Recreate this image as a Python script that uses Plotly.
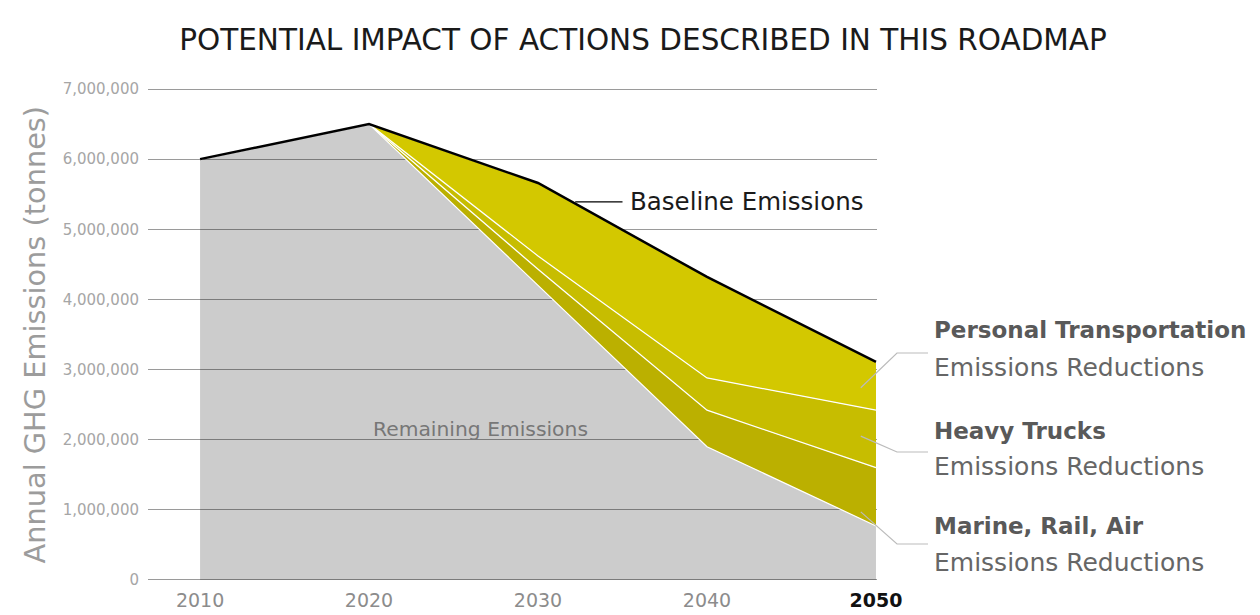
import plotly.graph_objects as go

# Annual GHG emissions (tonnes) by scenario component
years = [2010, 2020, 2030, 2040, 2050]
remaining = [6.00e6, 6.50e6, 4.20e6, 1.90e6, 0.77e6]
marine_rail_air = [0, 0, 0.23e6, 0.52e6, 0.83e6]
heavy_trucks = [0, 0, 0.19e6, 0.46e6, 0.82e6]
personal_transport = [0, 0, 1.04e6, 1.44e6, 0.69e6]

baseline = [r + m + h + p for r, m, h, p in
            zip(remaining, marine_rail_air, heavy_trucks, personal_transport)]

y_ticks = [0, 1e6, 2e6, 3e6, 4e6, 5e6, 6e6, 7e6]
y_ticktext = [f"{v:,.0f}" for v in y_ticks]
x_ticktext = ["2010", "2020", "2030", "2040",
              "<b><span style='color:#111111'>2050</span></b>"]

FONT = "DejaVu Sans"
X_RANGE = [2006.92, 2050.06]
Y_RANGE = [-0.015e6, 7.057e6]

W, H = 1260, 615
M_L, M_R, M_T, M_B = 148, 383, 85, 34
PLOT_W = W - M_L - M_R
PLOT_H = H - M_T - M_B


def paper_x(pix):
    return (pix - M_L) / PLOT_W


def paper_y(pix):
    return (H - M_B - pix) / PLOT_H


def data_to_paper_x(x):
    return (x - X_RANGE[0]) / (X_RANGE[1] - X_RANGE[0])


def data_to_paper_y(y):
    return (y - Y_RANGE[0]) / (Y_RANGE[1] - Y_RANGE[0])


fig = go.Figure()

fig.add_trace(go.Scatter(
    x=years, y=remaining, stackgroup="em", mode="lines",
    line=dict(color="white", width=1.2),
    fillcolor="rgba(0,0,0,0.2)", name="Remaining Emissions",
))
fig.add_trace(go.Scatter(
    x=years, y=marine_rail_air, stackgroup="em", mode="lines",
    line=dict(color="white", width=1.3),
    fillcolor="rgb(187,176,0)", name="Marine, Rail, Air",
))
fig.add_trace(go.Scatter(
    x=years, y=heavy_trucks, stackgroup="em", mode="lines",
    line=dict(color="white", width=1.3),
    fillcolor="rgb(199,189,0)", name="Heavy Trucks",
))
fig.add_trace(go.Scatter(
    x=years, y=personal_transport, stackgroup="em", mode="lines",
    line=dict(color="white", width=1.3),
    fillcolor="rgb(211,200,0)", name="Personal Transportation",
))
fig.add_trace(go.Scatter(
    x=years, y=baseline, mode="lines",
    line=dict(color="black", width=2.5), name="Baseline Emissions",
))

# Baseline label with its short leader
base_y = 5.39e6
fig.add_shape(type="line", xref="x", yref="y", x0=2032.2, x1=2035.0,
              y0=base_y, y1=base_y, line=dict(color="black", width=1.2))
fig.add_annotation(x=2035.3, y=base_y, xref="x", yref="y",
                   text="Baseline Emissions", showarrow=False,
                   xanchor="left", yanchor="middle",
                   font=dict(family=FONT, size=24.5, color="#1a1a1a"))

fig.add_annotation(x=2026.6, y=2.15e6, xref="x", yref="y",
                   text="Remaining Emissions", showarrow=False,
                   xanchor="center", yanchor="middle",
                   font=dict(family=FONT, size=20.3, color="#777777"))

# Right-hand labels for the reduction wedges: (name, leader start value,
# elbow pixel row, bold line row, second line row)
wedge_labels = [
    ("Personal Transportation", 2.74e6, 353, 330, 367),
    ("Heavy Trucks", 2.05e6, 452, 431, 466),
    ("Marine, Rail, Air", 0.97e6, 544, 526, 562),
]
start_x = data_to_paper_x(2049.1)
elbow_x = paper_x(897)
end_x = paper_x(928)
text_x = paper_x(932)
for name, start_val, elbow_row, row1, row2 in wedge_labels:
    ey = paper_y(elbow_row)
    fig.add_shape(type="path", xref="paper", yref="paper",
                  path=(f"M {start_x} {data_to_paper_y(start_val)} "
                        f"L {elbow_x} {ey} L {end_x} {ey}"),
                  line=dict(color="#bbbbbb", width=1.2))
    fig.add_annotation(x=text_x, y=paper_y(row1), xref="paper", yref="paper",
                       text=f"<b>{name}</b>", showarrow=False,
                       xanchor="left", yanchor="middle",
                       font=dict(family=FONT, size=23, color="#595959"))
    fig.add_annotation(x=text_x, y=paper_y(row2), xref="paper", yref="paper",
                       text="Emissions Reductions", showarrow=False,
                       xanchor="left", yanchor="middle",
                       font=dict(family=FONT, size=25, color="#666666"))

fig.update_layout(
    width=W, height=H,
    margin=dict(l=M_L, r=M_R, t=M_T, b=M_B, autoexpand=False),
    paper_bgcolor="white", plot_bgcolor="white",
    showlegend=False,
    title=dict(text="POTENTIAL IMPACT OF ACTIONS DESCRIBED IN THIS ROADMAP",
               x=643 / W, xref="container", xanchor="center",
               y=1 - 40 / H, yref="container", yanchor="middle",
               font=dict(family=FONT, size=29.5, color="#1a1a1a")),
    font=dict(family=FONT),
)

fig.update_xaxes(range=X_RANGE, tickvals=years, ticktext=x_ticktext,
                 showgrid=False, zeroline=False, showline=False, ticks="",
                 ticklabelstandoff=6, automargin=False,
                 tickfont=dict(family=FONT, size=19, color="#8c8c8c"))
fig.update_yaxes(range=Y_RANGE, tickvals=y_ticks, ticktext=y_ticktext,
                 showgrid=True, gridcolor="#9a9a9a", gridwidth=1,
                 zeroline=False, showline=False, ticks="",
                 ticklabelstandoff=8, automargin=False,
                 tickfont=dict(family=FONT, size=15, color="#a6a6a6"))

fig.add_annotation(x=paper_x(35), y=data_to_paper_y(3.5e6),
                   xref="paper", yref="paper",
                   text="Annual GHG Emissions (tonnes)", showarrow=False,
                   textangle=-90, xanchor="center", yanchor="middle",
                   font=dict(family=FONT, size=28.8, color="#9c9c9c"))

fig.write_html("out.html")
